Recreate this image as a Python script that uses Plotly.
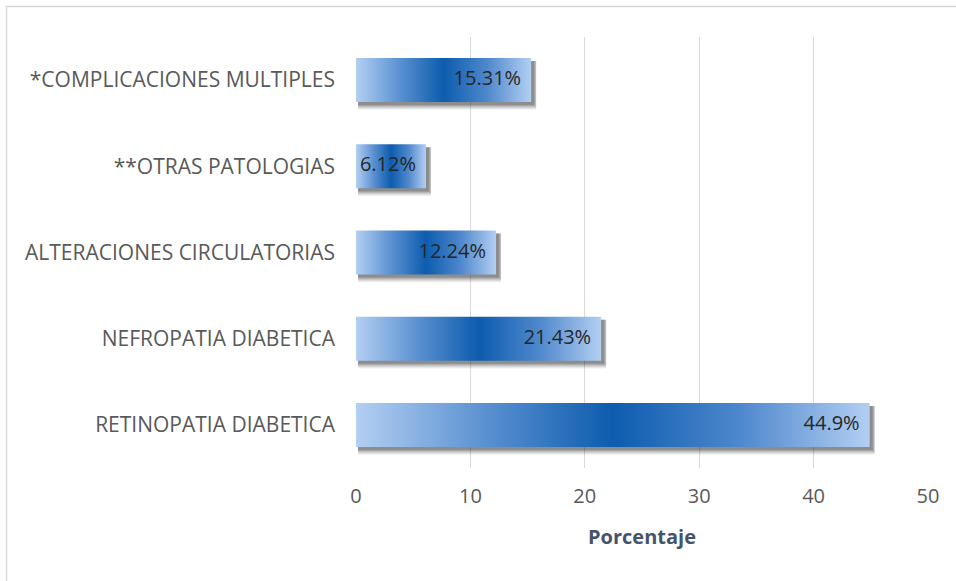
import plotly.graph_objects as go

# Complications data (percent of patients)
categories = [
    "RETINOPATIA DIABETICA",
    "NEFROPATIA DIABETICA",
    "ALTERACIONES CIRCULATORIAS",
    "**OTRAS PATOLOGIAS",
    "*COMPLICACIONES MULTIPLES",
]
values = [44.9, 21.43, 12.24, 6.12, 15.31]
value_labels = ["44.9%", "21.43%", "12.24%", "6.12%", "15.31%"]
x_ticks = [0, 10, 20, 30, 40, 50]

W, H = 956, 581
ML, MR, MT, MB = 356, 28, 37, 113
PW, PH = W - ML - MR, H - MT - MB
X_RANGE = (0, 50)
Y_RANGE = (-0.5, len(categories) - 0.5)
dx = (X_RANGE[1] - X_RANGE[0]) / PW   # data units per pixel, x
dy = (Y_RANGE[1] - Y_RANGE[0]) / PH   # data units per pixel, y

FONT = "Open Sans, Lato, sans-serif"
half = 0.255  # half bar thickness in category units
gradient = [
    [0.0, "#b3cff2"], [0.25, "#5b91d1"], [0.5, "#0d5cae"],
    [0.75, "#4f88cd"], [1.0, "#b3cff2"],
]

fig = go.Figure()

for i, v in enumerate(values):
    # soft drop shadow: stacked translucent rectangles fading downward
    for k, a in [(8, 0.05), (7, 0.07), (6, 0.09), (5, 0.11), (4, 0.14), (3, 0.18)]:
        sx0, sx1 = 0 + 2 * dx, v + min(k, 5) * dx
        sy0, sy1 = i - half - k * dy, i + half - 3 * dy
        fig.add_trace(go.Scatter(
            x=[sx0, sx1, sx1, sx0, sx0], y=[sy0, sy0, sy1, sy1, sy0],
            mode="lines", fill="toself", line=dict(width=0),
            fillcolor=f"rgba(30,30,30,{a})", hoverinfo="skip", showlegend=False,
        ))
    # bar with horizontal gradient fill
    fig.add_trace(go.Scatter(
        x=[0, v, v, 0, 0], y=[i - half, i - half, i + half, i + half, i - half],
        mode="lines", fill="toself", line=dict(width=0),
        fillgradient=dict(type="horizontal", colorscale=gradient),
        hoverinfo="skip", showlegend=False,
    ))

# value labels inside bar ends
fig.add_trace(go.Scatter(
    x=[v - 10 * dx for v in values], y=list(range(len(values))),
    mode="text", text=value_labels, textposition="middle left",
    textfont=dict(family=FONT, size=20, color="#262626"),
    hoverinfo="skip", showlegend=False,
))

fig.update_layout(
    width=W, height=H,
    margin=dict(l=ML, r=MR, t=MT, b=MB),
    paper_bgcolor="white", plot_bgcolor="white",
    font=dict(family=FONT, color="#595959"),
    xaxis=dict(
        range=list(X_RANGE), tickvals=x_ticks, ticktext=[str(t) for t in x_ticks],
        showgrid=True, gridcolor="#d9d9d9", gridwidth=1, zeroline=False,
        showline=False, ticks="", tickfont=dict(size=20, color="#595959"),
        ticklabelstandoff=14,
        title=dict(text="<b>Porcentaje</b>", font=dict(family=FONT, size=20, color="#44546a"),
                   standoff=21),
        fixedrange=True,
    ),
    yaxis=dict(
        range=list(Y_RANGE), tickvals=list(range(len(categories))), ticktext=categories,
        showgrid=False, zeroline=False, showline=False, ticks="",
        tickfont=dict(size=21, color="#595959"), ticklabelstandoff=20,
        fixedrange=True,
    ),
    shapes=[dict(
        type="rect", xref="paper", yref="paper",
        x0=(6.5 - ML) / PW, x1=(W + 10 - ML) / PW,
        y0=(MT + PH - (H + 10)) / PH, y1=(MT + PH - 6.5) / PH,
        line=dict(color="#d9d9d9", width=1.5), fillcolor="rgba(0,0,0,0)", layer="below",
    )],
)

fig.write_html("out.html")
